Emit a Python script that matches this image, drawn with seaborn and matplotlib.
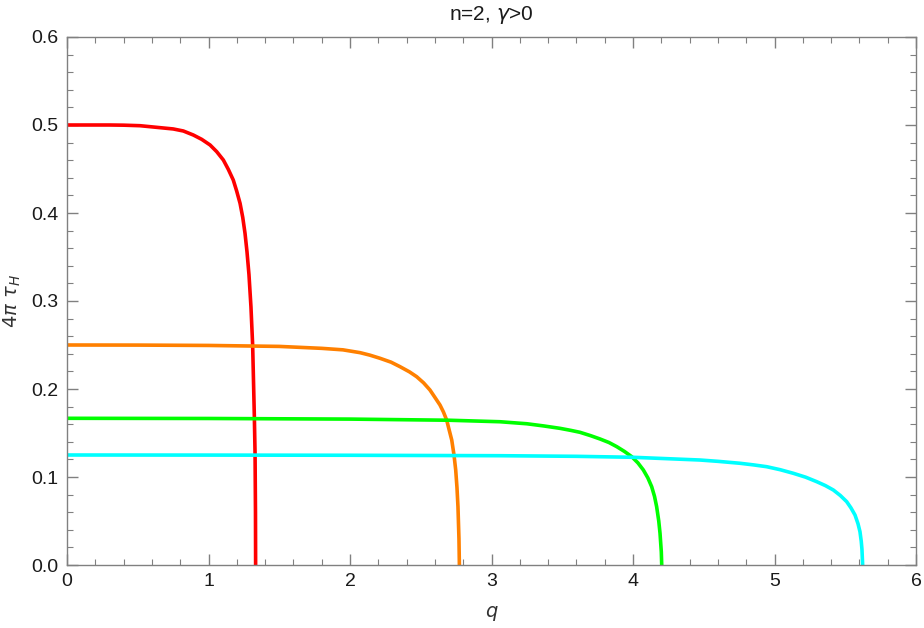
import pandas as pd
import matplotlib.pyplot as plt
import seaborn as sns
from matplotlib.ticker import MultipleLocator

# Curves (q, 4*pi*tau_H)
q_red = [0.0, 0.3, 0.4, 0.516, 0.751, 0.822, 0.893, 0.952, 1.011, 1.058, 1.105, 1.140,
         1.175, 1.199, 1.223, 1.242, 1.258, 1.272, 1.286, 1.300, 1.312, 1.324, 1.329,
         1.332, 1.333]
tau_red = [0.5, 0.5, 0.4998, 0.4992, 0.4955, 0.4932, 0.4886, 0.4837, 0.4773, 0.4697,
           0.4602, 0.4496, 0.4375, 0.425, 0.411, 0.395, 0.377, 0.356, 0.330, 0.2935,
           0.25, 0.1686, 0.127, 0.06, 0.0]

q_orange = [0.0, 0.5, 1.0, 1.5, 1.8, 1.95, 2.071, 2.14, 2.212, 2.29, 2.353, 2.42, 2.471,
            2.52, 2.565, 2.60, 2.636, 2.66, 2.683, 2.70, 2.719, 2.735, 2.747, 2.756,
            2.763, 2.770, 2.773]
tau_orange = [0.25, 0.2499, 0.2495, 0.2484, 0.2462, 0.2445, 0.2413, 0.2385, 0.2349,
              0.2305, 0.2254, 0.2195, 0.214, 0.2070, 0.1989, 0.1905, 0.1818, 0.174,
              0.1648, 0.154, 0.142, 0.125, 0.108, 0.088, 0.0663, 0.03, 0.0]

q_green = [0.0, 1.0, 2.0, 2.7, 3.06, 3.25, 3.37, 3.484, 3.56, 3.625, 3.70, 3.767, 3.83,
           3.885, 3.94, 3.991, 4.035, 4.073, 4.105, 4.132, 4.152, 4.167, 4.182, 4.191,
           4.200, 4.203]
tau_green = [0.1667, 0.1665, 0.1658, 0.1645, 0.1628, 0.1605, 0.158, 0.1553, 0.153,
             0.1508, 0.147, 0.1432, 0.1392, 0.1345, 0.129, 0.1231, 0.1160, 0.108, 0.099,
             0.089, 0.078, 0.0663, 0.050, 0.036, 0.015, 0.0]

q_cyan = [0.0, 1.0, 2.0, 3.06, 3.6, 4.0, 4.473, 4.6, 4.756, 4.85, 4.945, 5.04, 5.133,
          5.22, 5.298, 5.36, 5.416, 5.465, 5.51, 5.54, 5.569, 5.59, 5.604, 5.613, 5.618,
          5.623]
tau_cyan = [0.125, 0.1249, 0.1247, 0.1242, 0.1235, 0.1224, 0.1193, 0.1178, 0.1156, 0.1138,
            0.1117, 0.1083, 0.1042, 0.0998, 0.0947, 0.0902, 0.0852, 0.079, 0.072, 0.065,
            0.0568, 0.047, 0.0379, 0.027, 0.018, 0.0]

series = ['red', 'orange', 'green', 'cyan']
colors = ['#FF0000', '#FF8000', '#00FF00', '#00FFFF']

df = pd.concat([
    pd.DataFrame({'q': q, 'tau': t, 'curve': name})
    for q, t, name in zip([q_red, q_orange, q_green, q_cyan],
                          [tau_red, tau_orange, tau_green, tau_cyan], series)
], ignore_index=True)

sns.set_theme(style="ticks")
plt.rcParams['font.family'] = ['Liberation Sans', 'DejaVu Sans']

fig = plt.figure(figsize=(9.24, 6.28), dpi=100)
ax = fig.add_axes([67 / 924, 63 / 628, 849 / 924, 528 / 628])

sns.lineplot(data=df, x='q', y='tau', hue='curve', palette=dict(zip(series, colors)),
             sort=False, estimator=None, linewidth=2.6, legend=False, ax=ax)

ax.set_xlim(0, 6)
ax.set_ylim(0, 0.6)
ax.xaxis.set_major_locator(MultipleLocator(1))
ax.xaxis.set_minor_locator(MultipleLocator(0.2))
ax.yaxis.set_major_locator(MultipleLocator(0.1))
ax.yaxis.set_minor_locator(MultipleLocator(0.02))
ax.yaxis.set_major_formatter(plt.FuncFormatter(lambda v, p: f"{v:.1f}"))

frame = '#808080'
for s in ax.spines.values():
    s.set_color(frame)
    s.set_linewidth(1.0)
ax.tick_params(which='both', direction='in', top=True, right=True, color=frame,
               labelsize=14, labelcolor='#1a1a1a')
ax.tick_params(which='major', length=8, width=1.0, pad=6)
ax.tick_params(which='minor', length=4.5, width=0.8)

ax.set_xlabel('$q$', fontsize=14, color='#333333', labelpad=10)
ax.set_ylabel(r'$4\pi\ \tau_H$', fontsize=14, color='#333333', labelpad=6)
ax.set_title(r'n=2, $\gamma$>0', fontsize=15, color='#1a1a1a', pad=12)

fig.savefig('out.png', dpi=100)
